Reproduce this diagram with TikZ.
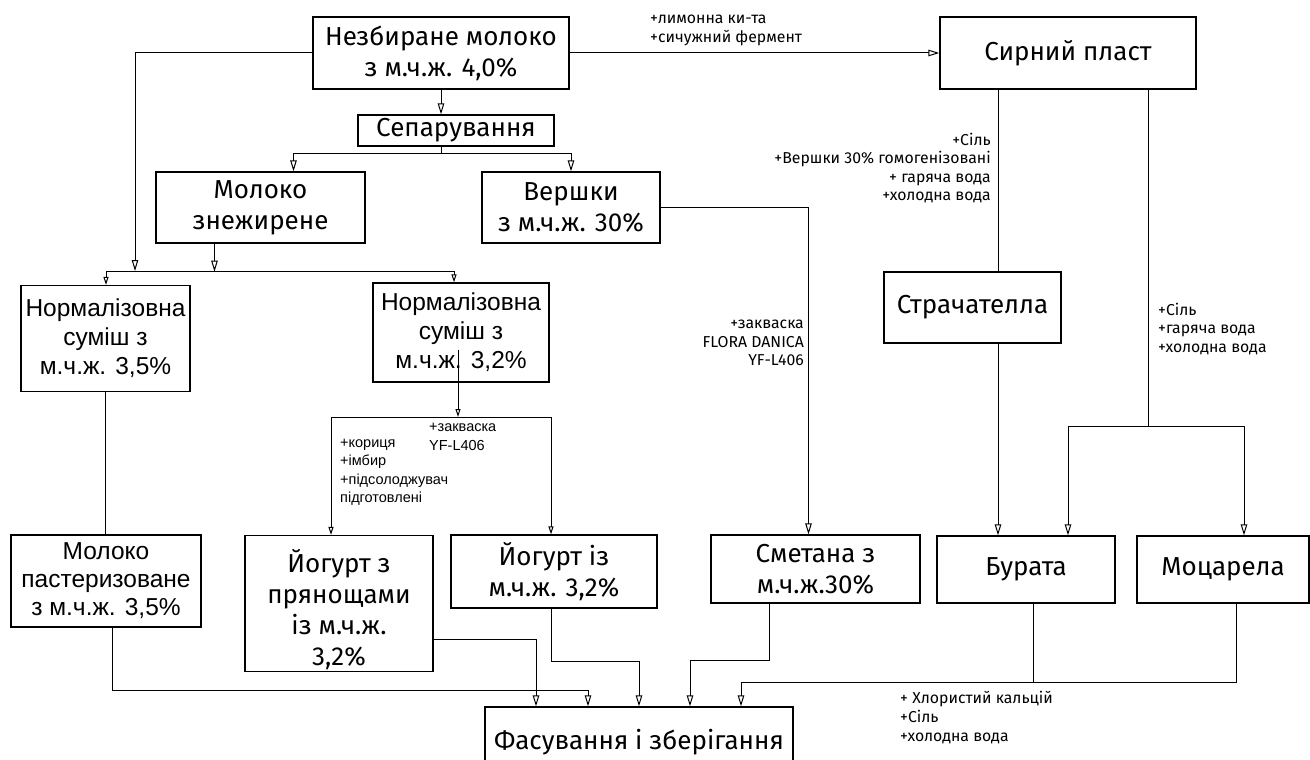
\documentclass[tikz,border=0pt]{standalone}
\usepackage{fontspec}
\setmainfont{Fira Sans}
\newfontfamily\arialfont{Liberation Sans}
\usetikzlibrary{arrows.meta}

\tikzset{
  box/.style={draw, line width=1.3pt, align=center, inner sep=0pt, font=\fontsize{26}{31}\selectfont},
  abox/.style={box, font=\arialfont\fontsize{24.5}{29}\selectfont},
  note/.style={inner sep=0pt, font=\fontsize{15.8}{18.6}\selectfont},
  anote/.style={inner sep=0pt, align=left, font=\arialfont\fontsize{14.5}{18.5}\selectfont},
  conn/.style={line width=1pt},
  arr/.style={conn, -{Triangle[open, length=11pt, width=6.5pt]}},
  sarr/.style={conn, -{Triangle[open, length=8pt, width=5pt]}},
}

\begin{document}
\begin{tikzpicture}[x=1pt,y=-1pt]
  \useasboundingbox (0,0) rectangle (1310,760);
  \node[box, minimum width=256, minimum height=72] (whole) at (441,53) {Незбиране молоко\\з м.ч.ж. 4,0\%};
  \node[box, minimum width=196, minimum height=31] (sep) at (456,130.5) {Сепарування};
  \node[box, minimum width=209, minimum height=71] (skim) at (260.5,207.5) {Молоко\\знежирене};
  \node[box, minimum width=178, minimum height=71] (cream) at (571,207.5) {Вершки\\з м.ч.ж. 30\%};
  \node[abox, minimum width=169, minimum height=106] (norm35) at (105.5,338.5) {Нормалізовна\\суміш з\\м.ч.ж. 3,5\%};
  \node[abox, minimum width=176, minimum height=99] (norm32) at (461,332.5) {Нормалізовна\\суміш з\\м.ч.ж. 3,2\%};
  \node[abox, minimum width=190, minimum height=92, font=\arialfont\fontsize{24.5}{28}\selectfont] (milkpast) at (106,581) {Молоко\\пастеризоване\\з м.ч.ж. 3,5\%};
  \node[box, minimum width=188, minimum height=136] (yogsp) at (339,603.5) {\raisebox{-8.5pt}[\height][\depth]{\begin{tabular}{@{}c@{}}Йогурт з\\прянощами\\із м.ч.ж.\\3,2\%\end{tabular}}};
  \node[box, minimum width=206, minimum height=73] (yog) at (554,571.5) {Йогурт із\\м.ч.ж. 3,2\%};
  \node[box, minimum width=209, minimum height=68] (sour) at (815.5,569) {Сметана з\\м.ч.ж.30\%};
  \node[box, minimum width=178, minimum height=67] (burr) at (1026,569.5) {Бурата};
  \node[box, minimum width=172, minimum height=67] (mozz) at (1223,569.5) {Моцарела};
  \node[box, minimum width=308, minimum height=70] (pack) at (639,742) {Фасування і зберігання};
  \node[box, minimum width=256, minimum height=72] (curd) at (1068,53) {Сирний пласт};
  \node[box, minimum width=177, minimum height=71] (strac) at (972.5,307.5) {Страчателла};

  \node[note, anchor=west, align=left] (lemon) at (650,30.5) {+лимонна ки-та\\+сичужний фермент};
  \node[note, anchor=east, align=right] (saltcream) at (991,168) {+Сіль\\+Вершки 30\% гомогенізовані\\+ гаряча вода\\+холодна вода};
  \node[note, anchor=east, align=right] (flora) at (804,343) {+закваска\\FLORA DANICA\\YF-L406};
  \node[note, anchor=west, align=left] (mozadd) at (1158,329) {+Сіль\\+гаряча вода\\+холодна вода};
  \node[note, anchor=west, align=left] (calcium) at (900,717.5) {+ Хлористий кальцій\\+Сіль\\+холодна вода};
  \node[anote, anchor=west] (starter) at (429,437) {+закваска\\YF-L406};
  \node[anote, anchor=west] (spices) at (340,472.5) {+кориця\\+імбир\\+підсолоджувач\\підготовлені};

  \draw[arr] (whole.south) -- (whole.south |- sep.north);
  \draw[arr] (whole.south |- sep.south) -- ++(0,7) -| ([xshift=33]skim.north);
  \draw[arr] (whole.south |- sep.south) -- ++(0,7) -| (cream.north);
  \coordinate (busl) at (106,271);
  \coordinate (busr) at (454,271);
  \coordinate (busa) at (135,271);
  \draw[conn] (busl) -- (busr);
  \draw[arr] (whole.west) -| (busa);
  \draw[arr] ([xshift=-46]skim.south) -- ++(0,28);
  \draw[sarr] (busl) -- (busl |- norm35.north);
  \draw[sarr] (busr) -- (busr |- norm32.north);
  \draw[conn] (norm35.south) -- (norm35.south |- milkpast.north);

  \coordinate (brl) at (331,417);
  \coordinate (brm) at (458,417);
  \coordinate (brr) at (551,417);
  \draw[sarr] ([shift={(-3,17)}]norm32.center) -- (brm);
  \draw[conn] (brl) -- (brr);
  \draw[sarr] (brl) -- (brl |- yogsp.north);
  \draw[sarr] (brr) -- (brr |- yog.north);

  \draw[arr] (whole.east) -- (curd.west);
  \draw[arr] (cream.east) -| ([xshift=-7]sour.north);
  \coordinate (cl) at ([xshift=-70]curd.south);
  \coordinate (cr) at ([xshift=80]curd.south);
  \draw[conn] (cl) -- (cl |- strac.north);
  \draw[arr] (cl |- strac.south) -- (cl |- burr.north);
  \coordinate (brbl) at (1068,426);
  \coordinate (brbr) at (1244,426);
  \draw[conn] (cr) -- (cr |- brbl);
  \draw[conn] (brbl) -- (brbr);
  \draw[arr] (brbl) -- (brbl |- burr.north);
  \draw[arr] (brbr) -- (brbr |- mozz.north);

  \coordinate (p1) at ([xshift=-103]pack.north);
  \coordinate (p2) at ([xshift=-51]pack.north);
  \coordinate (p3) at (pack.north);
  \coordinate (p4) at ([xshift=51]pack.north);
  \coordinate (p5) at ([xshift=102]pack.north);
  \draw[arr] ([xshift=6]milkpast.south) -- ++(0,63) -| (p2);
  \draw[arr] ([yshift=-36]yogsp.east) -| (p1);
  \draw[arr] ([xshift=-3]yog.south) -- ++(0,53) -| (p3);
  \draw[arr] ([xshift=-46]sour.south) -- ++(0,57) -| (p4);
  \draw[conn] ([xshift=7]burr.south) -- ++(0,79);
  \draw[arr] ([xshift=13]mozz.south) -- ++(0,79) -| (p5);
\end{tikzpicture}
\end{document}
